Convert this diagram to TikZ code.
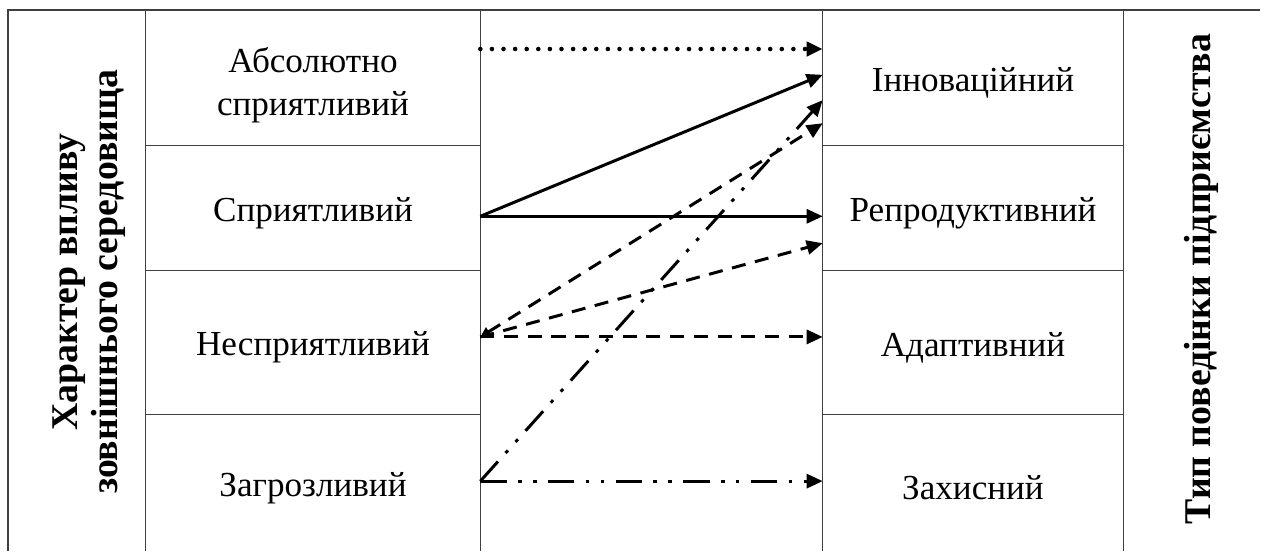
\documentclass[tikz,border=0pt]{standalone}
\usepackage{fontspec}
\setmainfont{Liberation Serif}
\usetikzlibrary{arrows.meta,calc}
\tikzset{
  cell/.style  = {rectangle, inner sep=0pt, align=center,
                  font=\fontsize{20}{24.5}\selectfont,
                  execute at begin node={\rule{0pt}{0.7cm}}},
  side/.style  = {rotate=90, align=center, inner sep=0pt,
                  font=\fontsize{21.5}{23}\selectfont\bfseries},
  grid/.style  = {line width=0.7pt, black!75},
  flow/.style  = {-{Triangle[length=3.2mm,width=2.8mm]}, line width=1.7pt},
  dflow/.style = {flow, dash pattern=on 8pt off 5.5pt},
  pflow/.style = {flow, line width=2.6pt, line cap=round,
                  dash pattern=on 0pt off 6.6pt},
  cflow/.style = {flow, dash pattern=on 15pt off 6.5pt on 2pt off 6.5pt on 2pt off 6.5pt},
}

\begin{document}
\begin{tikzpicture}[x=0.02cm,y=-0.02cm]
    \useasboundingbox (0,0) rectangle (1267,551);
    % left cells
    \node[cell,minimum width=6.68cm,minimum height=2.7cm]  (abs) at (313,77.5) {\rule{0pt}{0.8cm}Абсолютно\\сприятливий};
    \node[cell,minimum width=6.68cm,minimum height=2.5cm]  (spr) at (313,207.5) {Сприятливий};
    \node[cell,minimum width=6.68cm,minimum height=2.88cm] (nes) at (313,342) {Несприятливий};
    \node[cell,minimum width=6.68cm,minimum height=2.74cm] (zag) at (313,482.5) {Загрозливий};
    % right cells
    \node[cell,minimum width=6cm,minimum height=2.7cm]  (inn) at (973,77.5) {Інноваційний};
    \node[cell,minimum width=6cm,minimum height=2.5cm]  (rep) at (973,207.5) {Репродуктивний};
    \node[cell,minimum width=6cm,minimum height=2.88cm] (ada) at (973,342) {Адаптивний};
    \node[cell,minimum width=6cm,minimum height=2.74cm] (zah) at (973,482.5) {Захисний};
    % side titles
    \node[side] (envlbl) at (89,282) {Характер впливу\\зовнішнього середовища};
    \node[side] (behlbl) at (1201,279) {Тип поведінки підприємства};
    % frame
    \draw[grid] (8,551) -- (8,10) -- (1260,10);
    \draw[grid] (abs.north west) -- (zag.south west);
    \draw[grid] (abs.north east) -- (zag.south east);
    \draw[grid] (inn.north west) -- (zah.south west);
    \draw[grid] (inn.north east) -- (zah.south east);
    \foreach \u in {abs,spr,nes,inn,rep,ada}
      \draw[grid] (\u.south west) -- (\u.south east);
    % links
    \draw[pflow] ($(abs.north east)!0.29!(abs.south east)$) -- ($(inn.north west)!0.29!(inn.south west)$);
    \draw[flow]  ($(spr.north east)!0.57!(spr.south east)$) -- ($(inn.north west)!0.48!(inn.south west)$);
    \draw[flow]  ($(spr.north east)!0.57!(spr.south east)$) -- ($(rep.north west)!0.57!(rep.south west)$);
    \draw[dflow,{Triangle[length=2mm,width=2mm]}-{Triangle[length=3.2mm,width=2.8mm]}]
                 ($(nes.north east)!0.465!(nes.south east)$) -- ($(inn.north west)!0.837!(inn.south west)$);
    \draw[dflow] ($(nes.north east)!0.465!(nes.south east)$) -- ($(rep.north west)!0.784!(rep.south west)$);
    \draw[dflow] ($(nes.north east)!0.465!(nes.south east)$) -- ($(ada.north west)!0.465!(ada.south west)$);
    \draw[cflow] ($(zag.north east)!0.49!(zag.south east)$) -- ($(inn.north west)!0.667!(inn.south west)$);
    \draw[cflow] ($(zag.north east)!0.49!(zag.south east)$) -- ($(zah.north west)!0.49!(zah.south west)$);
\end{tikzpicture}
\end{document}
